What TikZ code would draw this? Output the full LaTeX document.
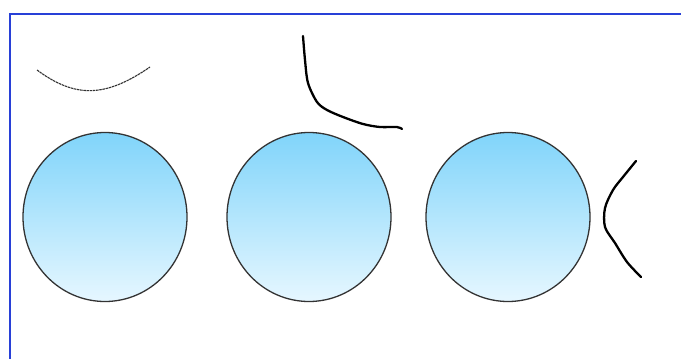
\documentclass[tikz,border=0pt]{standalone}
\usetikzlibrary{shapes.geometric}
\definecolor{framecol}{RGB}{40,64,215}
\definecolor{topblue}{RGB}{128,212,250}
\definecolor{botblue}{RGB}{230,247,255}
\begin{document}
\begin{tikzpicture}[x=1pt,y=-1pt,
  ball/.style={ellipse, draw=black!80, line width=1.3pt, minimum width=164pt, minimum height=169pt,
    top color=topblue, bottom color=botblue, inner sep=0pt},
  stroke/.style={black, line width=2.3pt, line cap=round, line join=round},
  faint/.style={black!80, line width=1.1pt, dash pattern=on 2.5pt off 0.7pt}]
\useasboundingbox (0,0) rectangle (681,359);
\fill[white] (0,0) rectangle (681,359);
\draw[framecol, line width=2pt] (9.5,359) -- (9.5,13.5) -- (681,13.5);
\node[ball] (b1) at (105,217) {};
\node[ball] (b2) at (309,217) {};
\node[ball] (b3) at (508,217) {};
\draw[faint] (37,70) .. controls (75,98) and (105,98) .. (150,67);
\draw[stroke] plot[smooth, tension=0.5] coordinates {(303,36) (305,60) (308,83) (317,102) (327,110) (343,117) (363,124) (380,127) (397,127) (402,129)};
\draw[stroke] plot[smooth, tension=0.5] coordinates {(636,161) (623,177) (613,190) (605,208) (605,227) (615,243) (627,262) (641,277)};
\end{tikzpicture}
\end{document}
